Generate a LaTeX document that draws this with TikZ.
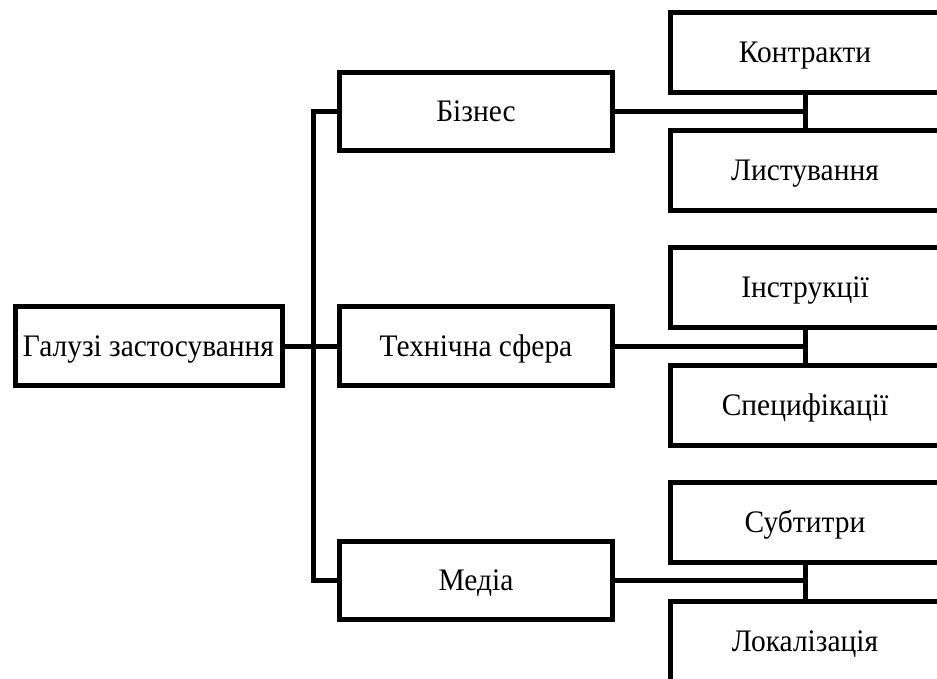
\documentclass[tikz,border=0pt]{standalone}
\usepackage{fontspec}
\setmainfont[FakeStretch=0.94]{Liberation Serif}

\tikzset{
  box/.style={draw, line width=3.75pt, minimum width=202.5pt,
    minimum height=60pt, inner sep=0pt, text height=15.5pt, text depth=0pt,
    font=\fontsize{23.5}{27}\selectfont},
  midbox/.style={box, minimum width=204.75pt, minimum height=59pt},
  link/.style={line width=3.75pt}
}

\begin{document}
\begin{tikzpicture}[x=0.75pt, y=-0.75pt]
   \path[use as bounding box, clip] (0,0) rectangle (937,678);

   \node (root) [midbox, minimum width=200.25pt] at (148.5,346) {Галузі застосування};
   \coordinate (trunk) at (313,346);

   \node (biz)   [midbox] at (476,111.5) {Бізнес};
   \node (tech)  [midbox] at (476,346)   {Технічна сфера};
   \node (media) [midbox] at (476,580.5) {Медіа};

   \node (contr) [box] at (805,52.5)  {Контракти};
   \node (mail)  [box] at (805,170.5) {Листування};
   \node (instr) [box] at (805,287.5) {Інструкції};
   \node (spec)  [box] at (805,405)   {Специфікації};
   \node (subs)  [box] at (805,522)   {Субтитри};
   \node (local) [box] at (805,641)   {Локалізація};

   % trunk
   \draw[link] (biz) -| (trunk) |- (media);
   \draw[link] (root) -- (tech);

   % branches to the right
   \draw[link] (biz) -- (biz -| contr);
   \draw[link] (contr) -- (mail);
   \draw[link] (tech) -- (tech -| instr);
   \draw[link] (instr) -- (spec);
   \draw[link] (media) -- (media -| subs);
   \draw[link] (subs) -- (local);
\end{tikzpicture}
\end{document}
